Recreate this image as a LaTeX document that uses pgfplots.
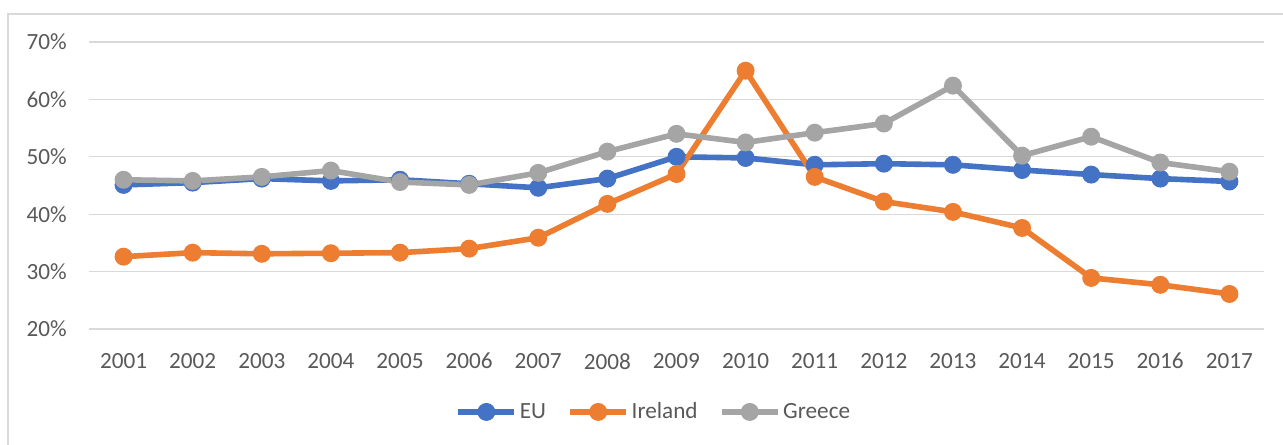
\documentclass[border=0pt]{standalone}
\usepackage{fontspec}
\setmainfont{Carlito}
\usepackage{pgfplots}
\pgfplotsset{compat=1.18}

\definecolor{euBlue}{HTML}{4472C4}
\definecolor{ieOrange}{HTML}{ED7D31}
\definecolor{grGray}{HTML}{A5A5A5}
\definecolor{gridGray}{HTML}{D9D9D9}
\definecolor{txtGray}{HTML}{595959}

\begin{document}
\begin{tikzpicture}
% page = 1283 x 445 px, 1 px = 0.75pt
\path[use as bounding box] (0,0) rectangle (962.25pt,333.75pt);
% chart area frame (left and top edges visible)
\draw[gridGray, line width=0.9pt] (6pt,0) -- (6pt,323.25pt) -- (962.25pt,323.25pt);

\begin{axis}[
    at={(66.75pt,87pt)}, anchor=south west,
    width=881.25pt, height=215.25pt,
    scale only axis,
    xmin=2000.5, xmax=2017.5,
    ymin=20, ymax=70,
    xtick={2001,...,2017},
    ytick={20,30,...,70},
    yticklabel={\pgfmathprintnumber{\tick}\%},
    /pgf/number format/1000 sep={},
    /pgf/number format/assume math mode=true,
    axis line style={draw=none},
    major tick style={draw=none},
    ymajorgrids,
    major grid style={gridGray, line width=0.9pt},
    tick label style={font=\fontsize{17.4}{20}\selectfont, text=txtGray, inner sep=0pt},
    yticklabel style={anchor=east, xshift=-16.5pt},
    xticklabel style={anchor=north, yshift=-18pt},
    legend style={
        at={(0.481,-0.289)}, anchor=center,
        draw=none, fill=none,
        legend columns=3,
        font=\fontsize{17.4}{20}\selectfont,
        text=txtGray,
        /tikz/every even column/.append style={column sep=14pt},
        nodes={inner sep=2pt},
    },
    legend image code/.code={
        \draw[mark repeat=2, mark phase=2, #1] plot coordinates {(0pt,0pt) (21pt,0pt) (42pt,0pt)};
    },
    every axis plot/.append style={line width=4.2pt, mark=*, mark size=4.6pt, mark options={solid}},
]

\addplot[euBlue] coordinates {
(2001,45.1)(2002,45.5)(2003,46.2)(2004,45.8)(2005,46.0)(2006,45.3)(2007,44.6)(2008,46.2)(2009,50.0)
(2010,49.8)(2011,48.6)(2012,48.8)(2013,48.6)(2014,47.7)(2015,46.9)(2016,46.2)(2017,45.7)};
\addlegendentry{EU}

\addplot[ieOrange] coordinates {
(2001,32.6)(2002,33.3)(2003,33.1)(2004,33.2)(2005,33.3)(2006,34.0)(2007,35.9)(2008,41.8)(2009,47.0)
(2010,65.0)(2011,46.5)(2012,42.2)(2013,40.4)(2014,37.6)(2015,28.9)(2016,27.7)(2017,26.1)};
\addlegendentry{Ireland}

\addplot[grGray] coordinates {
(2001,46.0)(2002,45.8)(2003,46.5)(2004,47.6)(2005,45.6)(2006,45.1)(2007,47.2)(2008,50.9)(2009,54.0)
(2010,52.5)(2011,54.2)(2012,55.8)(2013,62.4)(2014,50.2)(2015,53.5)(2016,49.0)(2017,47.4)};
\addlegendentry{Greece}

\end{axis}
\end{tikzpicture}
\end{document}
